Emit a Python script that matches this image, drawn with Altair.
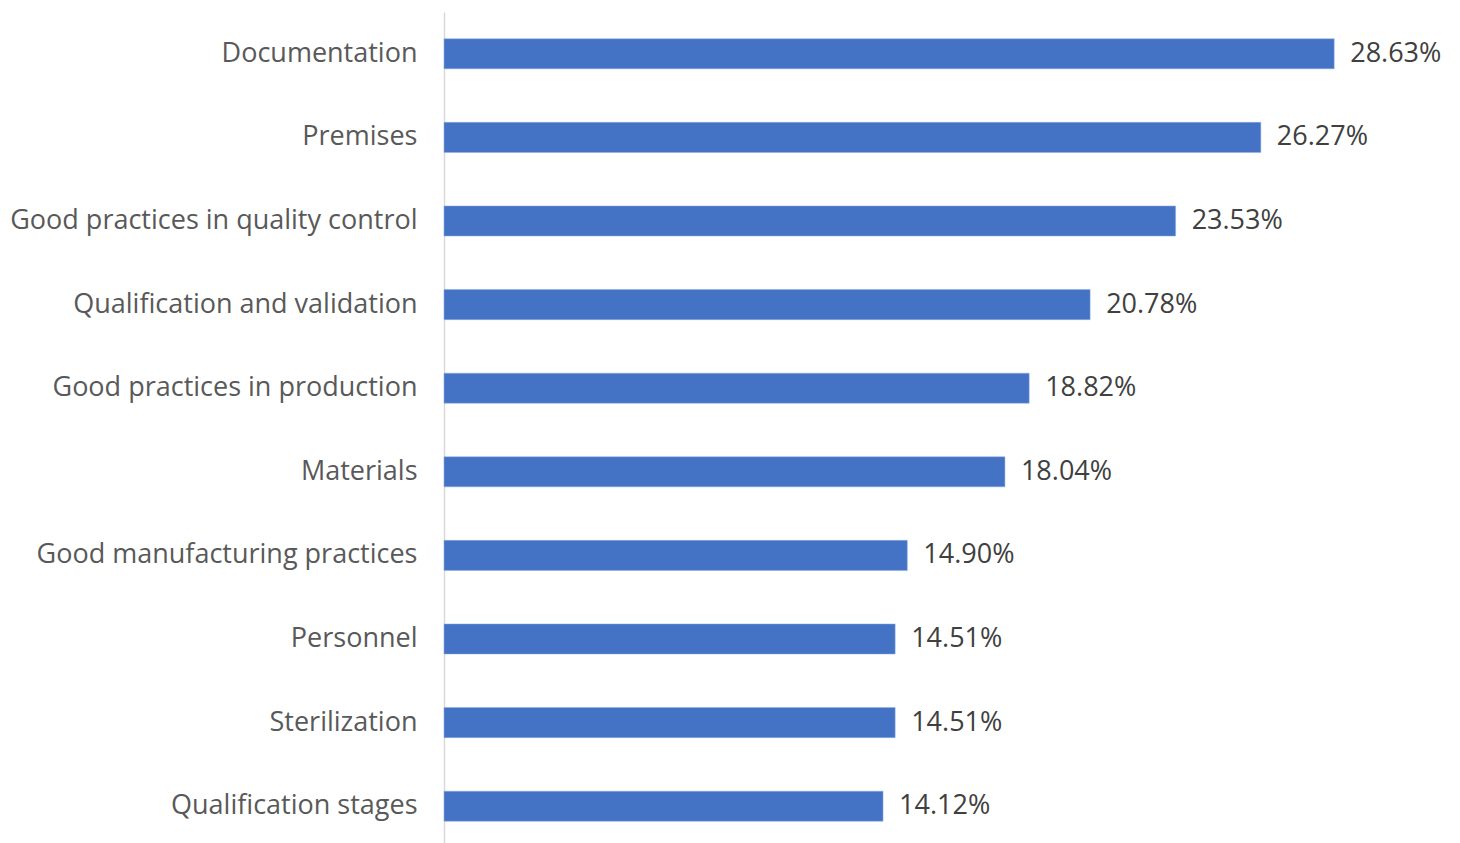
import altair as alt
import pandas as pd

categories = [
    "Documentation",
    "Premises",
    "Good practices in quality control",
    "Qualification and validation",
    "Good practices in production",
    "Materials",
    "Good manufacturing practices",
    "Personnel",
    "Sterilization",
    "Qualification stages",
]
values = [28.63, 26.27, 23.53, 20.78, 18.82, 18.04, 14.90, 14.51, 14.51, 14.12]

df = pd.DataFrame({"category": categories, "value": values})

FONT = "Open Sans"

base = alt.Chart(df).encode(
    y=alt.Y(
        "category:N",
        sort=categories,
        title=None,
        scale=alt.Scale(paddingInner=0.64, paddingOuter=0.32, range=[0, 836]),
        axis=alt.Axis(
            ticks=False,
            domainColor="#d9d9d9",
            domainWidth=1.5,
            labelFont=FONT,
            labelFontSize=27,
            labelColor="#595959",
            labelPadding=27,
            labelLimit=0,
            grid=False,
        ),
    ),
    x=alt.X(
        "value:Q",
        title=None,
        scale=alt.Scale(domain=[0, 32], nice=False),
        axis=None,
    ),
)

bars = base.mark_bar(color="#4472C4", stroke="#8fb0e0", strokeWidth=0.5)
labels = base.transform_calculate(
    label="format(datum.value, '.2f') + '%'"
).mark_text(
    align="left", baseline="middle", dx=16, font=FONT, fontSize=27, color="#404040"
).encode(text="label:N")

chart = (
    (bars + labels)
    .properties(
        width=995,
        height=831,
        autosize=alt.AutoSizeParams(type="none"),
        padding={"left": 444, "top": 12, "right": 21, "bottom": 0},
    )
    .configure(background="white")
    .configure_view(stroke=None, strokeWidth=0)
)

chart.save("out.html", embed_options={"renderer": "svg", "actions": False})
